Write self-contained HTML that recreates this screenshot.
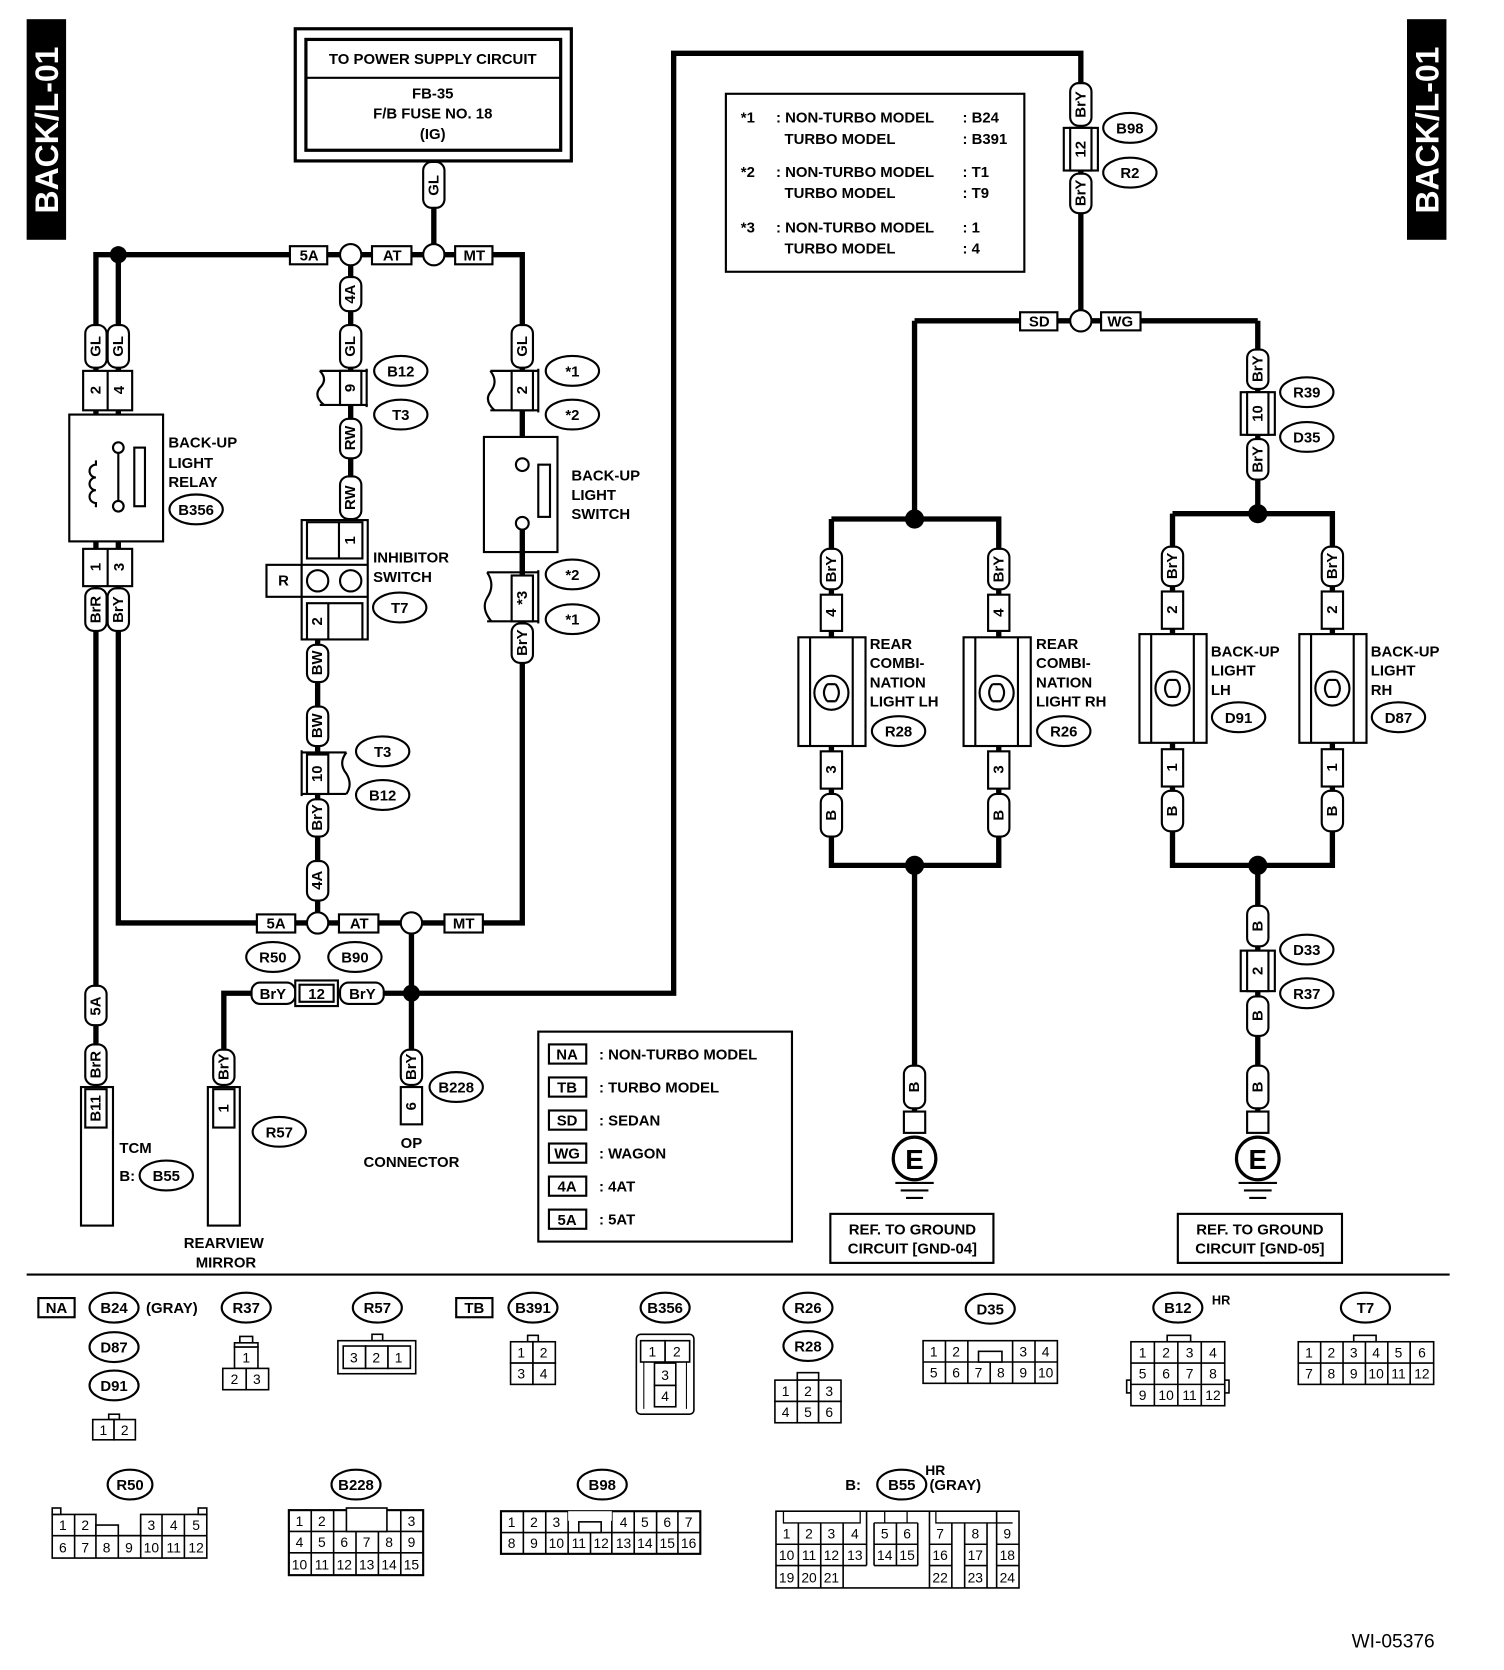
<!DOCTYPE html>
<html><head><meta charset="utf-8"><style>
html,body{margin:0;padding:0;background:#fff}
svg{display:block}
text{font-family:"Liberation Sans",sans-serif;font-weight:bold;font-size:14px;fill:#000}
.c{text-anchor:middle;dominant-baseline:central}
.w{fill:none;stroke:#000;stroke-width:5}
.p{fill:#fff;stroke:#000;stroke-width:2}
.o{fill:#fff;stroke:#000;stroke-width:2}
.b{fill:#fff;stroke:#000;stroke-width:2}
.g{fill:#fff;stroke:#000;stroke-width:1.5}
.s text{font-weight:normal;font-size:13px}
</style></head><body>
<svg width="1504" height="1670" viewBox="0 0 1411 1567" preserveAspectRatio="none" xmlns="http://www.w3.org/2000/svg">
<rect x="25" y="18" width="37" height="207" fill="#000"/>
<text transform="translate(44,122) rotate(-90)" class="c" style="fill:#fff;font-size:30px">BACK/L-01</text>
<rect x="1320" y="18" width="37" height="207" fill="#000"/>
<text transform="translate(1339,122) rotate(-90)" class="c" style="fill:#fff;font-size:30px">BACK/L-01</text>

<rect x="277" y="27" width="259" height="124" class="b" style="stroke-width:3"/>
<rect x="287" y="37" width="239" height="104" class="b" style="stroke-width:3"/>
<line x1="287" y1="73" x2="526" y2="73" stroke="#000" stroke-width="2"/>
<text x="406" y="56" class="c">TO POWER SUPPLY CIRCUIT</text>
<text x="406" y="88" class="c">FB-35</text>
<text x="406" y="107" class="c">F/B FUSE NO. 18</text>
<text x="406" y="126" class="c">(IG)</text>

<path class="w" d="M407 151V239 M90 1150V239H490V866H111V239 M329 239V348 M329 380V488 M298 600V866 M490 239V866 M386 866V985 M210 1020V932H632V50H1014V301 M858 301H1180 M858 301V487 M780 487H937V598 M780 487V598 M780 700V812H937V700 M858 812V1050 M1180 301V482 M1100 482H1250V595 M1100 482V595 M1100 697V812H1250V697 M1180 812V1060"/>
<circle cx="111" cy="239" r="8"/><circle cx="386" cy="932" r="8"/>
<circle cx="858" cy="487" r="9"/><circle cx="858" cy="812" r="9"/>
<circle cx="1180" cy="482" r="9"/><circle cx="1180" cy="812" r="9"/>
<g>
<circle cx="329" cy="239" r="10" class="b"/><circle cx="407" cy="239" r="10" class="b"/>
<circle cx="298" cy="866" r="10" class="b"/><circle cx="386" cy="866" r="10" class="b"/>
<circle cx="1014" cy="301" r="10" class="b"/>
<rect x="272" y="231" width="35" height="17" class="b"/><text x="290" y="240" class="c">5A</text>
<rect x="349" y="231" width="37" height="17" class="b"/><text x="368" y="240" class="c">AT</text>
<rect x="427" y="231" width="35" height="17" class="b"/><text x="445" y="240" class="c">MT</text>
<rect x="241" y="858" width="36" height="17" class="b"/><text x="259" y="867" class="c">5A</text>
<rect x="318" y="858" width="37" height="17" class="b"/><text x="337" y="867" class="c">AT</text>
<rect x="417" y="858" width="36" height="17" class="b"/><text x="435" y="867" class="c">MT</text>
<rect x="957" y="293" width="35" height="17" class="b"/><text x="975" y="302" class="c">SD</text>
<rect x="1033" y="293" width="37" height="17" class="b"/><text x="1051" y="302" class="c">WG</text>
</g>

<g>
<rect x="397" y="152" width="20" height="43" rx="8" class="p"/><text transform="translate(407,174) rotate(-90)" class="c">GL</text>
<rect x="80" y="305" width="20" height="40" rx="8" class="p"/><text transform="translate(90,325) rotate(-90)" class="c">GL</text>
<rect x="101" y="305" width="20" height="40" rx="8" class="p"/><text transform="translate(111,325) rotate(-90)" class="c">GL</text>
<rect x="80" y="552" width="20" height="40" rx="8" class="p"/><text transform="translate(90,572) rotate(-90)" class="c">BrR</text>
<rect x="101" y="552" width="20" height="40" rx="8" class="p"/><text transform="translate(111,572) rotate(-90)" class="c">BrY</text>
<rect x="80" y="925" width="20" height="37" rx="8" class="p"/><text transform="translate(90,944) rotate(-90)" class="c">5A</text>
<rect x="80" y="980" width="20" height="38" rx="8" class="p"/><text transform="translate(90,999) rotate(-90)" class="c">BrR</text>
<rect x="319" y="260" width="20" height="32" rx="8" class="p"/><text transform="translate(329,276) rotate(-90)" class="c">4A</text>
<rect x="319" y="305" width="20" height="40" rx="8" class="p"/><text transform="translate(329,325) rotate(-90)" class="c">GL</text>
<rect x="319" y="393" width="20" height="37" rx="8" class="p"/><text transform="translate(329,411) rotate(-90)" class="c">RW</text>
<rect x="319" y="447" width="20" height="40" rx="8" class="p"/><text transform="translate(329,467) rotate(-90)" class="c">RW</text>
<rect x="288" y="605" width="20" height="35" rx="8" class="p"/><text transform="translate(298,622) rotate(-90)" class="c">BW</text>
<rect x="288" y="663" width="20" height="37" rx="8" class="p"/><text transform="translate(298,681) rotate(-90)" class="c">BW</text>
<rect x="288" y="750" width="20" height="35" rx="8" class="p"/><text transform="translate(298,767) rotate(-90)" class="c">BrY</text>
<rect x="288" y="808" width="20" height="37" rx="8" class="p"/><text transform="translate(298,826) rotate(-90)" class="c">4A</text>
<rect x="480" y="305" width="20" height="40" rx="8" class="p"/><text transform="translate(490,325) rotate(-90)" class="c">GL</text>
<rect x="480" y="585" width="20" height="37" rx="8" class="p"/><text transform="translate(490,603) rotate(-90)" class="c">BrY</text>
<rect x="200" y="985" width="20" height="33" rx="8" class="p"/><text transform="translate(210,1001) rotate(-90)" class="c">BrY</text>
<rect x="376" y="985" width="20" height="33" rx="8" class="p"/><text transform="translate(386,1001) rotate(-90)" class="c">BrY</text>
<rect x="1004" y="78" width="20" height="40" rx="8" class="p"/><text transform="translate(1014,98) rotate(-90)" class="c">BrY</text>
<rect x="1004" y="163" width="20" height="37" rx="8" class="p"/><text transform="translate(1014,181) rotate(-90)" class="c">BrY</text>
<rect x="1170" y="328" width="20" height="37" rx="8" class="p"/><text transform="translate(1180,346) rotate(-90)" class="c">BrY</text>
<rect x="1170" y="412" width="20" height="38" rx="8" class="p"/><text transform="translate(1180,431) rotate(-90)" class="c">BrY</text>
<rect x="770" y="515" width="20" height="38" rx="8" class="p"/><text transform="translate(780,534) rotate(-90)" class="c">BrY</text>
<rect x="927" y="515" width="20" height="38" rx="8" class="p"/><text transform="translate(937,534) rotate(-90)" class="c">BrY</text>
<rect x="770" y="745" width="20" height="40" rx="8" class="p"/><text transform="translate(780,765) rotate(-90)" class="c">B</text>
<rect x="927" y="745" width="20" height="40" rx="8" class="p"/><text transform="translate(937,765) rotate(-90)" class="c">B</text>
<rect x="1090" y="513" width="20" height="37" rx="8" class="p"/><text transform="translate(1100,531) rotate(-90)" class="c">BrY</text>
<rect x="1240" y="513" width="20" height="37" rx="8" class="p"/><text transform="translate(1250,531) rotate(-90)" class="c">BrY</text>
<rect x="1090" y="742" width="20" height="38" rx="8" class="p"/><text transform="translate(1100,761) rotate(-90)" class="c">B</text>
<rect x="1240" y="742" width="20" height="38" rx="8" class="p"/><text transform="translate(1250,761) rotate(-90)" class="c">B</text>
<rect x="1170" y="850" width="20" height="38" rx="8" class="p"/><text transform="translate(1180,869) rotate(-90)" class="c">B</text>
<rect x="1170" y="935" width="20" height="37" rx="8" class="p"/><text transform="translate(1180,953) rotate(-90)" class="c">B</text>
<rect x="1170" y="1000" width="20" height="40" rx="8" class="p"/><text transform="translate(1180,1020) rotate(-90)" class="c">B</text>
<rect x="848" y="1000" width="20" height="40" rx="8" class="p"/><text transform="translate(858,1020) rotate(-90)" class="c">B</text>
</g>
<rect x="236" y="922" width="41" height="20" rx="8" class="p"/><text x="256" y="933" class="c">BrY</text>
<rect x="277" y="920" width="40" height="24" class="b"/><rect x="281" y="924" width="32" height="16" class="b"/><text x="297" y="933" class="c">12</text>
<rect x="319" y="922" width="41" height="20" rx="8" class="p"/><text x="340" y="933" class="c">BrY</text>

<g>
<rect x="78" y="348" width="46" height="37" class="b"/><line x1="101" y1="348" x2="101" y2="385" stroke="#000" stroke-width="2"/>
<text transform="translate(90,366) rotate(-90)" class="c">2</text><text transform="translate(112,366) rotate(-90)" class="c">4</text>
<rect x="78" y="515" width="46" height="35" class="b"/><line x1="101" y1="515" x2="101" y2="550" stroke="#000" stroke-width="2"/>
<text transform="translate(90,532) rotate(-90)" class="c">1</text><text transform="translate(112,532) rotate(-90)" class="c">3</text>
<rect x="76" y="1020" width="30" height="130" class="b"/><rect x="80" y="1022" width="20" height="36" class="b"/>
<text transform="translate(90,1040) rotate(-90)" class="c">B11</text>
<rect x="195" y="1020" width="30" height="130" class="b"/><rect x="200" y="1022" width="20" height="36" class="b"/>
<text transform="translate(210,1040) rotate(-90)" class="c">1</text>
<rect x="376" y="1020" width="20" height="35" class="b"/><text transform="translate(386,1038) rotate(-90)" class="c">6</text>
<path d="M300 348H345M300 380H345" stroke="#000" stroke-width="2"/>
<path d="M300 348q8 8 0 16q-6 8 4 16" fill="none" stroke="#000" stroke-width="2"/>
<rect x="319" y="348" width="20" height="32" class="b"/><line x1="344" y1="346" x2="344" y2="382" stroke="#000" stroke-width="2"/>
<text transform="translate(329,364) rotate(-90)" class="c">9</text>
<path d="M460 348H505M460 385H505" stroke="#000" stroke-width="2"/>
<path d="M460 348q8 10 0 20q-6 8 4 17" fill="none" stroke="#000" stroke-width="2"/>
<rect x="480" y="348" width="20" height="37" class="b"/><line x1="505" y1="346" x2="505" y2="387" stroke="#000" stroke-width="2"/>
<text transform="translate(490,366) rotate(-90)" class="c">2</text>
<path d="M457 537H505M457 583H505" stroke="#000" stroke-width="2"/>
<path d="M457 537q8 12 0 24q-6 10 4 22" fill="none" stroke="#000" stroke-width="2"/>
<rect x="480" y="540" width="20" height="43" class="b"/><line x1="505" y1="535" x2="505" y2="585" stroke="#000" stroke-width="2"/>
<text transform="translate(490,561) rotate(-90)" class="c">*3</text>
<path d="M283 706H325M283 745H325" stroke="#000" stroke-width="2"/>
<path d="M325 706q-8 10 0 20q6 10 0 19" fill="none" stroke="#000" stroke-width="2"/>
<line x1="283" y1="704" x2="283" y2="747" stroke="#000" stroke-width="2"/>
<rect x="288" y="708" width="20" height="37" class="b"/><text transform="translate(298,726) rotate(-90)" class="c">10</text>
<rect x="998" y="120" width="32" height="40" class="b"/><rect x="1004" y="120" width="20" height="40" class="b"/>
<text transform="translate(1014,140) rotate(-90)" class="c">12</text>
<rect x="1164" y="368" width="32" height="40" class="b"/><rect x="1170" y="368" width="20" height="40" class="b"/>
<text transform="translate(1180,388) rotate(-90)" class="c">10</text>
<rect x="1164" y="892" width="32" height="38" class="b"/><rect x="1170" y="892" width="20" height="38" class="b"/>
<text transform="translate(1180,911) rotate(-90)" class="c">2</text>
<rect x="770" y="558" width="20" height="34" class="b"/><text transform="translate(780,575) rotate(-90)" class="c">4</text>
<rect x="770" y="705" width="20" height="35" class="b"/><text transform="translate(780,722) rotate(-90)" class="c">3</text>
<rect x="927" y="558" width="20" height="34" class="b"/><text transform="translate(937,575) rotate(-90)" class="c">4</text>
<rect x="927" y="705" width="20" height="35" class="b"/><text transform="translate(937,722) rotate(-90)" class="c">3</text>
<rect x="1090" y="555" width="20" height="35" class="b"/><text transform="translate(1100,572) rotate(-90)" class="c">2</text>
<rect x="1090" y="703" width="20" height="35" class="b"/><text transform="translate(1100,720) rotate(-90)" class="c">1</text>
<rect x="1240" y="555" width="20" height="35" class="b"/><text transform="translate(1250,572) rotate(-90)" class="c">2</text>
<rect x="1240" y="703" width="20" height="35" class="b"/><text transform="translate(1250,720) rotate(-90)" class="c">1</text>
<rect x="848" y="1043" width="20" height="20" class="b"/>
<rect x="1170" y="1043" width="20" height="20" class="b"/>
</g>

<rect x="65" y="389" width="88" height="119" class="b"/>
<path d="M90 432v4a6 6 0 1 0 0 12a6 6 0 1 0 0 12a6 6 0 1 0 0 12v4" fill="none" stroke="#000" stroke-width="2"/>
<line x1="111" y1="420" x2="111" y2="475" stroke="#000" stroke-width="2"/>
<circle cx="111" cy="420" r="5" class="b"/><circle cx="111" cy="475" r="5" class="b"/>
<rect x="126" y="420" width="10" height="55" class="b"/>
<text x="158" y="420">BACK-UP</text><text x="158" y="439">LIGHT</text><text x="158" y="457">RELAY</text>
<rect x="250" y="530" width="33" height="30" class="b"/><text x="266" y="545" class="c">R</text>
<rect x="283" y="488" width="62" height="112" class="b"/>
<line x1="283" y1="530" x2="345" y2="530" stroke="#000" stroke-width="2"/><line x1="283" y1="560" x2="345" y2="560" stroke="#000" stroke-width="2"/>
<rect x="288" y="490" width="52" height="34" class="b"/><line x1="318" y1="490" x2="318" y2="524" stroke="#000" stroke-width="2"/>
<text transform="translate(329,507) rotate(-90)" class="c">1</text>
<rect x="288" y="566" width="52" height="34" class="b"/><line x1="308" y1="566" x2="308" y2="600" stroke="#000" stroke-width="2"/>
<text transform="translate(298,583) rotate(-90)" class="c">2</text>
<circle cx="298" cy="545" r="10" class="b"/><circle cx="329" cy="545" r="10" class="b"/>
<text x="350" y="528">INHIBITOR</text><text x="350" y="546">SWITCH</text>
<rect x="454" y="410" width="69" height="108" class="b"/>
<circle cx="490" cy="436" r="6" class="b"/><circle cx="490" cy="491" r="6" class="b"/>
<rect x="505" y="436" width="11" height="49" class="b"/>
<line x1="490" y1="496" x2="490" y2="540" stroke="#000" stroke-width="5"/>
<text x="536" y="451">BACK-UP</text><text x="536" y="469">LIGHT</text><text x="536" y="487">SWITCH</text>

<g>
<rect x="749" y="598" width="63" height="102" class="b"/><line x1="760" y1="598" x2="760" y2="700" stroke="#000" stroke-width="2"/><line x1="800" y1="598" x2="800" y2="700" stroke="#000" stroke-width="2"/>
<circle cx="780" cy="650" r="16" class="b"/><path d="M776 642q-6 8 0 16M784 642q6 8 0 16M776 642h8M776 658h8" fill="none" stroke="#000" stroke-width="2"/>
<rect x="904" y="598" width="63" height="102" class="b"/><line x1="915" y1="598" x2="915" y2="700" stroke="#000" stroke-width="2"/><line x1="955" y1="598" x2="955" y2="700" stroke="#000" stroke-width="2"/>
<circle cx="935" cy="650" r="16" class="b"/><path d="M931 642q-6 8 0 16M939 642q6 8 0 16M931 642h8M931 658h8" fill="none" stroke="#000" stroke-width="2"/>
<rect x="1069" y="595" width="63" height="102" class="b"/><line x1="1080" y1="595" x2="1080" y2="697" stroke="#000" stroke-width="2"/><line x1="1120" y1="595" x2="1120" y2="697" stroke="#000" stroke-width="2"/>
<circle cx="1100" cy="646" r="16" class="b"/><path d="M1096 638q-6 8 0 16M1104 638q6 8 0 16M1096 638h8M1096 654h8" fill="none" stroke="#000" stroke-width="2"/>
<rect x="1219" y="595" width="63" height="102" class="b"/><line x1="1230" y1="595" x2="1230" y2="697" stroke="#000" stroke-width="2"/><line x1="1270" y1="595" x2="1270" y2="697" stroke="#000" stroke-width="2"/>
<circle cx="1250" cy="646" r="16" class="b"/><path d="M1246 638q-6 8 0 16M1254 638q6 8 0 16M1246 638h8M1246 654h8" fill="none" stroke="#000" stroke-width="2"/>
</g>
<text x="816" y="609">REAR</text><text x="816" y="627">COMBI-</text><text x="816" y="645">NATION</text><text x="816" y="663">LIGHT LH</text>
<text x="972" y="609">REAR</text><text x="972" y="627">COMBI-</text><text x="972" y="645">NATION</text><text x="972" y="663">LIGHT RH</text>
<text x="1136" y="616">BACK-UP</text><text x="1136" y="634">LIGHT</text><text x="1136" y="652">LH</text>
<text x="1286" y="616">BACK-UP</text><text x="1286" y="634">LIGHT</text><text x="1286" y="652">RH</text>

<g>
<circle cx="858" cy="1087" r="20" class="b" style="stroke-width:3"/><text x="858" y="1088" class="c" style="font-size:26px">E</text>
<path d="M840 1110h36M845 1117h26M850 1124h16" stroke="#000" stroke-width="2"/>
<rect x="779" y="1139" width="153" height="46" class="b"/><text x="856" y="1154" class="c">REF. TO GROUND</text><text x="856" y="1172" class="c">CIRCUIT [GND-04]</text>
<circle cx="1180" cy="1087" r="20" class="b" style="stroke-width:3"/><text x="1180" y="1088" class="c" style="font-size:26px">E</text>
<path d="M1162 1110h36M1167 1117h26M1172 1124h16" stroke="#000" stroke-width="2"/>
<rect x="1105" y="1139" width="154" height="46" class="b"/><text x="1182" y="1154" class="c">REF. TO GROUND</text><text x="1182" y="1172" class="c">CIRCUIT [GND-05]</text>
</g>

<g>
<ellipse cx="376" cy="348" rx="25" ry="14" class="o"/><text x="376" y="349" class="c">B12</text>
<ellipse cx="376" cy="389" rx="25" ry="14" class="o"/><text x="376" y="390" class="c">T3</text>
<ellipse cx="537" cy="348" rx="25" ry="14" class="o"/><text x="537" y="349" class="c">*1</text>
<ellipse cx="537" cy="389" rx="25" ry="14" class="o"/><text x="537" y="390" class="c">*2</text>
<ellipse cx="537" cy="539" rx="25" ry="14" class="o"/><text x="537" y="540" class="c">*2</text>
<ellipse cx="537" cy="581" rx="25" ry="14" class="o"/><text x="537" y="582" class="c">*1</text>
<ellipse cx="184" cy="478" rx="25" ry="14" class="o"/><text x="184" y="479" class="c">B356</text>
<ellipse cx="375" cy="570" rx="25" ry="14" class="o"/><text x="375" y="571" class="c">T7</text>
<ellipse cx="359" cy="705" rx="25" ry="14" class="o"/><text x="359" y="706" class="c">T3</text>
<ellipse cx="359" cy="746" rx="25" ry="14" class="o"/><text x="359" y="747" class="c">B12</text>
<ellipse cx="256" cy="898" rx="25" ry="14" class="o"/><text x="256" y="899" class="c">R50</text>
<ellipse cx="333" cy="898" rx="25" ry="14" class="o"/><text x="333" y="899" class="c">B90</text>
<ellipse cx="428" cy="1020" rx="25" ry="14" class="o"/><text x="428" y="1021" class="c">B228</text>
<ellipse cx="262" cy="1062" rx="25" ry="14" class="o"/><text x="262" y="1063" class="c">R57</text>
<ellipse cx="156" cy="1103" rx="25" ry="14" class="o"/><text x="156" y="1104" class="c">B55</text>
<ellipse cx="1060" cy="120" rx="25" ry="14" class="o"/><text x="1060" y="121" class="c">B98</text>
<ellipse cx="1060" cy="162" rx="25" ry="14" class="o"/><text x="1060" y="163" class="c">R2</text>
<ellipse cx="1226" cy="368" rx="25" ry="14" class="o"/><text x="1226" y="369" class="c">R39</text>
<ellipse cx="1226" cy="410" rx="25" ry="14" class="o"/><text x="1226" y="411" class="c">D35</text>
<ellipse cx="843" cy="686" rx="25" ry="14" class="o"/><text x="843" y="687" class="c">R28</text>
<ellipse cx="998" cy="686" rx="25" ry="14" class="o"/><text x="998" y="687" class="c">R26</text>
<ellipse cx="1162" cy="673" rx="25" ry="14" class="o"/><text x="1162" y="674" class="c">D91</text>
<ellipse cx="1312" cy="673" rx="25" ry="14" class="o"/><text x="1312" y="674" class="c">D87</text>
<ellipse cx="1226" cy="891" rx="25" ry="14" class="o"/><text x="1226" y="892" class="c">D33</text>
<ellipse cx="1226" cy="932" rx="25" ry="14" class="o"/><text x="1226" y="933" class="c">R37</text>
</g>
<text x="112" y="1082">TCM</text><text x="112" y="1108">B:</text>
<text x="210" y="1167" class="c">REARVIEW</text><text x="212" y="1185" class="c">MIRROR</text>
<text x="386" y="1073" class="c">OP</text><text x="386" y="1091" class="c">CONNECTOR</text>

<rect x="681" y="88" width="280" height="167" class="b"/>
<text x="695" y="115">*1</text><text x="728" y="115">: NON-TURBO MODEL</text><text x="903" y="115">: B24</text>
<text x="736" y="135">TURBO MODEL</text><text x="903" y="135">: B391</text>
<text x="695" y="166">*2</text><text x="728" y="166">: NON-TURBO MODEL</text><text x="903" y="166">: T1</text>
<text x="736" y="186">TURBO MODEL</text><text x="903" y="186">: T9</text>
<text x="695" y="218">*3</text><text x="728" y="218">: NON-TURBO MODEL</text><text x="903" y="218">: 1</text>
<text x="736" y="238">TURBO MODEL</text><text x="903" y="238">: 4</text>

<rect x="505" y="968" width="238" height="197" class="b"/>
<g>
<rect x="515" y="980" width="35" height="18" class="b"/><text x="532" y="990" class="c">NA</text><text x="562" y="994">: NON-TURBO MODEL</text>
<rect x="515" y="1011" width="35" height="18" class="b"/><text x="532" y="1021" class="c">TB</text><text x="562" y="1025">: TURBO MODEL</text>
<rect x="515" y="1042" width="35" height="18" class="b"/><text x="532" y="1052" class="c">SD</text><text x="562" y="1056">: SEDAN</text>
<rect x="515" y="1073" width="35" height="18" class="b"/><text x="532" y="1083" class="c">WG</text><text x="562" y="1087">: WAGON</text>
<rect x="515" y="1104" width="35" height="18" class="b"/><text x="532" y="1114" class="c">4A</text><text x="562" y="1118">: 4AT</text>
<rect x="515" y="1135" width="35" height="18" class="b"/><text x="532" y="1145" class="c">5A</text><text x="562" y="1149">: 5AT</text>
</g>

<line x1="25" y1="1196" x2="1360" y2="1196" stroke="#000" stroke-width="2"/>

<g>
<rect x="36" y="1218" width="34" height="18" class="b"/><text x="53" y="1228" class="c">NA</text>
<ellipse cx="107" cy="1227" rx="23" ry="14" class="o"/><text x="107" y="1228" class="c">B24</text><text x="137" y="1232">(GRAY)</text>
<ellipse cx="107" cy="1264" rx="23" ry="14" class="o"/><text x="107" y="1265" class="c">D87</text>
<ellipse cx="107" cy="1300" rx="23" ry="14" class="o"/><text x="107" y="1301" class="c">D91</text>
<ellipse cx="231" cy="1227" rx="23" ry="14" class="o"/><text x="231" y="1228" class="c">R37</text>
<ellipse cx="354" cy="1227" rx="23" ry="14" class="o"/><text x="354" y="1228" class="c">R57</text>
<rect x="428" y="1218" width="34" height="18" class="b"/><text x="445" y="1228" class="c">TB</text>
<ellipse cx="500" cy="1227" rx="23" ry="14" class="o"/><text x="500" y="1228" class="c">B391</text>
<ellipse cx="624" cy="1227" rx="23" ry="14" class="o"/><text x="624" y="1228" class="c">B356</text>
<ellipse cx="758" cy="1227" rx="23" ry="14" class="o"/><text x="758" y="1228" class="c">R26</text>
<ellipse cx="758" cy="1263" rx="23" ry="14" class="o"/><text x="758" y="1264" class="c">R28</text>
<ellipse cx="929" cy="1228" rx="23" ry="14" class="o"/><text x="929" y="1229" class="c">D35</text>
<ellipse cx="1105" cy="1227" rx="23" ry="14" class="o"/><text x="1105" y="1228" class="c">B12</text><text x="1137" y="1224" style="font-size:12px">HR</text>
<ellipse cx="1281" cy="1227" rx="23" ry="14" class="o"/><text x="1281" y="1228" class="c">T7</text>
<ellipse cx="122" cy="1393" rx="21" ry="14" class="o"/><text x="122" y="1394" class="c">R50</text>
<ellipse cx="334" cy="1393" rx="23" ry="14" class="o"/><text x="334" y="1394" class="c">B228</text>
<ellipse cx="565" cy="1393" rx="23" ry="14" class="o"/><text x="565" y="1394" class="c">B98</text>
<text x="793" y="1398">B:</text><ellipse cx="846" cy="1393" rx="23" ry="14" class="o"/><text x="846" y="1394" class="c">B55</text>
<text x="868" y="1384" style="font-size:13px">HR</text><text x="872" y="1398">(GRAY)</text>
</g>
<g class="s">
<rect x="102" y="1327" width="10" height="5" class="g"/>
<rect x="87" y="1332" width="20" height="19" class="g"/><rect x="107" y="1332" width="20" height="19" class="g"/>
<text x="97" y="1342" class="c">1</text><text x="117" y="1342" class="c">2</text>
<rect x="225" y="1254" width="12" height="6" class="g"/><rect x="220" y="1260" width="22" height="4" class="g"/>
<rect x="220" y="1264" width="22" height="20" class="g"/><text x="231" y="1274" class="c">1</text>
<rect x="209" y="1284" width="22" height="20" class="g"/><rect x="231" y="1284" width="21" height="20" class="g"/>
<text x="220" y="1294" class="c">2</text><text x="241" y="1294" class="c">3</text>
<rect x="349" y="1252" width="10" height="6" class="g"/>
<rect x="317" y="1258" width="73" height="31" class="g"/>
<rect x="322" y="1263" width="21" height="21" class="g"/><rect x="343" y="1263" width="21" height="21" class="g"/><rect x="364" y="1263" width="21" height="21" class="g"/>
<text x="332" y="1274" class="c">3</text><text x="353" y="1274" class="c">2</text><text x="374" y="1274" class="c">1</text>
<rect x="495" y="1253" width="10" height="6" class="g"/>
<rect x="479" y="1259" width="21" height="20" class="g"/><rect x="500" y="1259" width="21" height="20" class="g"/>
<rect x="479" y="1279" width="21" height="20" class="g"/><rect x="500" y="1279" width="21" height="20" class="g"/>
<text x="489" y="1269" class="c">1</text><text x="510" y="1269" class="c">2</text><text x="489" y="1289" class="c">3</text><text x="510" y="1289" class="c">4</text>
<rect x="597" y="1252" width="54" height="75" rx="4" class="g"/>
<rect x="601" y="1258" width="23" height="20" class="g"/><rect x="624" y="1258" width="23" height="20" class="g"/>
<text x="612" y="1268" class="c">1</text><text x="635" y="1268" class="c">2</text>
<rect x="614" y="1279" width="20" height="21" class="g"/><rect x="614" y="1300" width="20" height="20" class="g"/>
<text x="624" y="1290" class="c">3</text><text x="624" y="1310" class="c">4</text>
<line x1="604" y1="1278" x2="604" y2="1322" stroke="#000"/><line x1="644" y1="1278" x2="644" y2="1322" stroke="#000"/>
<rect x="748" y="1288" width="20" height="7" class="g"/>
<rect x="727" y="1295" width="21" height="20" class="g"/><rect x="748" y="1295" width="20" height="20" class="g"/><rect x="768" y="1295" width="21" height="20" class="g"/>
<rect x="727" y="1315" width="21" height="20" class="g"/><rect x="748" y="1315" width="20" height="20" class="g"/><rect x="768" y="1315" width="21" height="20" class="g"/>
<text x="737" y="1305" class="c">1</text><text x="758" y="1305" class="c">2</text><text x="778" y="1305" class="c">3</text>
<text x="737" y="1325" class="c">4</text><text x="758" y="1325" class="c">5</text><text x="778" y="1325" class="c">6</text>
<rect x="866" y="1258" width="126" height="40" class="g"/>
<line x1="866" y1="1278" x2="992" y2="1278" stroke="#000" stroke-width="1.5"/>
<line x1="887" y1="1258" x2="887" y2="1298" stroke="#000" stroke-width="1.5"/><line x1="908" y1="1258" x2="908" y2="1298" stroke="#000" stroke-width="1.5"/>
<line x1="929" y1="1278" x2="929" y2="1298" stroke="#000" stroke-width="1.5"/><line x1="950" y1="1258" x2="950" y2="1298" stroke="#000" stroke-width="1.5"/><line x1="971" y1="1258" x2="971" y2="1298" stroke="#000" stroke-width="1.5"/>
<rect x="918" y="1268" width="22" height="10" class="g"/>
<text x="876" y="1268" class="c">1</text><text x="897" y="1268" class="c">2</text><text x="960" y="1268" class="c">3</text><text x="981" y="1268" class="c">4</text>
<text x="876" y="1288" class="c">5</text><text x="897" y="1288" class="c">6</text><text x="918" y="1288" class="c">7</text><text x="939" y="1288" class="c">8</text><text x="960" y="1288" class="c">9</text><text x="981" y="1288" class="c">10</text>
<rect x="1095" y="1253" width="22" height="6" class="g"/>
<rect x="1057" y="1295" width="4" height="12" class="g"/><rect x="1149" y="1295" width="4" height="12" class="g"/>
<rect x="1061" y="1259" width="88" height="60" class="g"/>
<path d="M1061 1279H1149M1061 1299H1149M1083 1259V1319M1105 1259V1319M1127 1259V1319" stroke="#000" stroke-width="1.5"/>
<text x="1072" y="1269" class="c">1</text><text x="1094" y="1269" class="c">2</text><text x="1116" y="1269" class="c">3</text><text x="1138" y="1269" class="c">4</text>
<text x="1072" y="1289" class="c">5</text><text x="1094" y="1289" class="c">6</text><text x="1116" y="1289" class="c">7</text><text x="1138" y="1289" class="c">8</text>
<text x="1072" y="1309" class="c">9</text><text x="1094" y="1309" class="c">10</text><text x="1116" y="1309" class="c">11</text><text x="1138" y="1309" class="c">12</text>
<rect x="1270" y="1253" width="21" height="6" class="g"/>
<rect x="1218" y="1259" width="127" height="40" class="g"/>
<path d="M1218 1279H1345M1239 1259V1299M1260 1259V1299M1281 1259V1299M1302 1259V1299M1323 1259V1299" stroke="#000" stroke-width="1.5"/>
<text x="1228" y="1269" class="c">1</text><text x="1249" y="1269" class="c">2</text><text x="1270" y="1269" class="c">3</text><text x="1291" y="1269" class="c">4</text><text x="1312" y="1269" class="c">5</text><text x="1334" y="1269" class="c">6</text>
<text x="1228" y="1289" class="c">7</text><text x="1249" y="1289" class="c">8</text><text x="1270" y="1289" class="c">9</text><text x="1291" y="1289" class="c">10</text><text x="1312" y="1289" class="c">11</text><text x="1334" y="1289" class="c">12</text>
<!-- R50 -->
<path d="M49 1421H90V1441H132V1421H194V1462H49Z" class="g"/>
<path d="M49 1441H194M70 1421V1462M90 1441V1462M111 1441V1462M132 1421V1462M152 1421V1462M173 1421V1462" stroke="#000" stroke-width="1.5"/>
<rect x="90" y="1431" width="21" height="10" class="g"/>
<rect x="49" y="1415" width="8" height="6" class="g"/><rect x="186" y="1415" width="8" height="6" class="g"/>
<text x="59" y="1431" class="c">1</text><text x="80" y="1431" class="c">2</text><text x="142" y="1431" class="c">3</text><text x="163" y="1431" class="c">4</text><text x="184" y="1431" class="c">5</text>
<text x="59" y="1452" class="c">6</text><text x="80" y="1452" class="c">7</text><text x="100" y="1452" class="c">8</text><text x="121" y="1452" class="c">9</text><text x="142" y="1452" class="c">10</text><text x="163" y="1452" class="c">11</text><text x="184" y="1452" class="c">12</text>
<rect x="271" y="1417" width="126" height="61" class="g" style="stroke-width:2"/>
<path d="M271 1437H397M271 1457H397M292 1417V1478M313 1437V1478M334 1437V1478M355 1437V1478M376 1417V1478M313 1417V1437" stroke="#000" stroke-width="1.5"/>
<rect x="325" y="1415" width="38" height="22" class="g"/>
<text x="281" y="1427" class="c">1</text><text x="302" y="1427" class="c">2</text><text x="386" y="1427" class="c">3</text>
<text x="281" y="1447" class="c">4</text><text x="302" y="1447" class="c">5</text><text x="323" y="1447" class="c">6</text><text x="344" y="1447" class="c">7</text><text x="365" y="1447" class="c">8</text><text x="386" y="1447" class="c">9</text>
<text x="281" y="1468" class="c">10</text><text x="302" y="1468" class="c">11</text><text x="323" y="1468" class="c">12</text><text x="344" y="1468" class="c">13</text><text x="365" y="1468" class="c">14</text><text x="386" y="1468" class="c">15</text>
<rect x="470" y="1418" width="187" height="40" class="g" style="stroke-width:2"/>
<path d="M470 1438H657M491 1418V1458M512 1418V1458M533 1418V1458M554 1438V1458M574 1418V1458M595 1418V1458M616 1418V1458M636 1418V1458" stroke="#000" stroke-width="1.5"/>
<rect x="533" y="1418" width="41" height="9" fill="#fff"/><rect x="543" y="1428" width="21" height="10" class="g"/>
<text x="480" y="1428" class="c">1</text><text x="501" y="1428" class="c">2</text><text x="522" y="1428" class="c">3</text><text x="585" y="1428" class="c">4</text><text x="605" y="1428" class="c">5</text><text x="626" y="1428" class="c">6</text><text x="646" y="1428" class="c">7</text>
<text x="480" y="1448" class="c">8</text><text x="501" y="1448" class="c">9</text><text x="522" y="1448" class="c">10</text><text x="543" y="1448" class="c">11</text><text x="564" y="1448" class="c">12</text><text x="585" y="1448" class="c">13</text><text x="605" y="1448" class="c">14</text><text x="626" y="1448" class="c">15</text><text x="646" y="1448" class="c">16</text>
<rect x="728" y="1418" width="228" height="72" class="g"/>
<path d="M728 1449H813M728 1469H813M749 1429V1490M770 1429V1490M791 1429V1490M813 1418V1469M820 1429V1469M820 1449H861M820 1469H861M841 1429V1469M861 1429V1469M872 1418V1490M893 1429V1490M905 1429V1490M926 1429V1490M935 1418V1490M872 1449H893M872 1469H893M905 1449H926M905 1469H926M935 1449H956M935 1469H956" stroke="#000" stroke-width="1.5"/>
<path d="M735 1418V1429H807V1418M820 1429H861M830 1418V1429M851 1418V1429M878 1418V1429H950" fill="none" stroke="#000" stroke-width="1.2"/>
<text x="738" y="1439" class="c">1</text><text x="759" y="1439" class="c">2</text><text x="780" y="1439" class="c">3</text><text x="802" y="1439" class="c">4</text><text x="830" y="1439" class="c">5</text><text x="851" y="1439" class="c">6</text><text x="882" y="1439" class="c">7</text><text x="915" y="1439" class="c">8</text><text x="945" y="1439" class="c">9</text>
<text x="738" y="1459" class="c">10</text><text x="759" y="1459" class="c">11</text><text x="780" y="1459" class="c">12</text><text x="802" y="1459" class="c">13</text><text x="830" y="1459" class="c">14</text><text x="851" y="1459" class="c">15</text><text x="882" y="1459" class="c">16</text><text x="915" y="1459" class="c">17</text><text x="945" y="1459" class="c">18</text>
<text x="738" y="1480" class="c">19</text><text x="759" y="1480" class="c">20</text><text x="780" y="1480" class="c">21</text><text x="882" y="1480" class="c">22</text><text x="915" y="1480" class="c">23</text><text x="945" y="1480" class="c">24</text>
</g>
<text x="1268" y="1546" style="font-weight:normal;font-size:18px">WI-05376</text>
</svg>
</body></html>
